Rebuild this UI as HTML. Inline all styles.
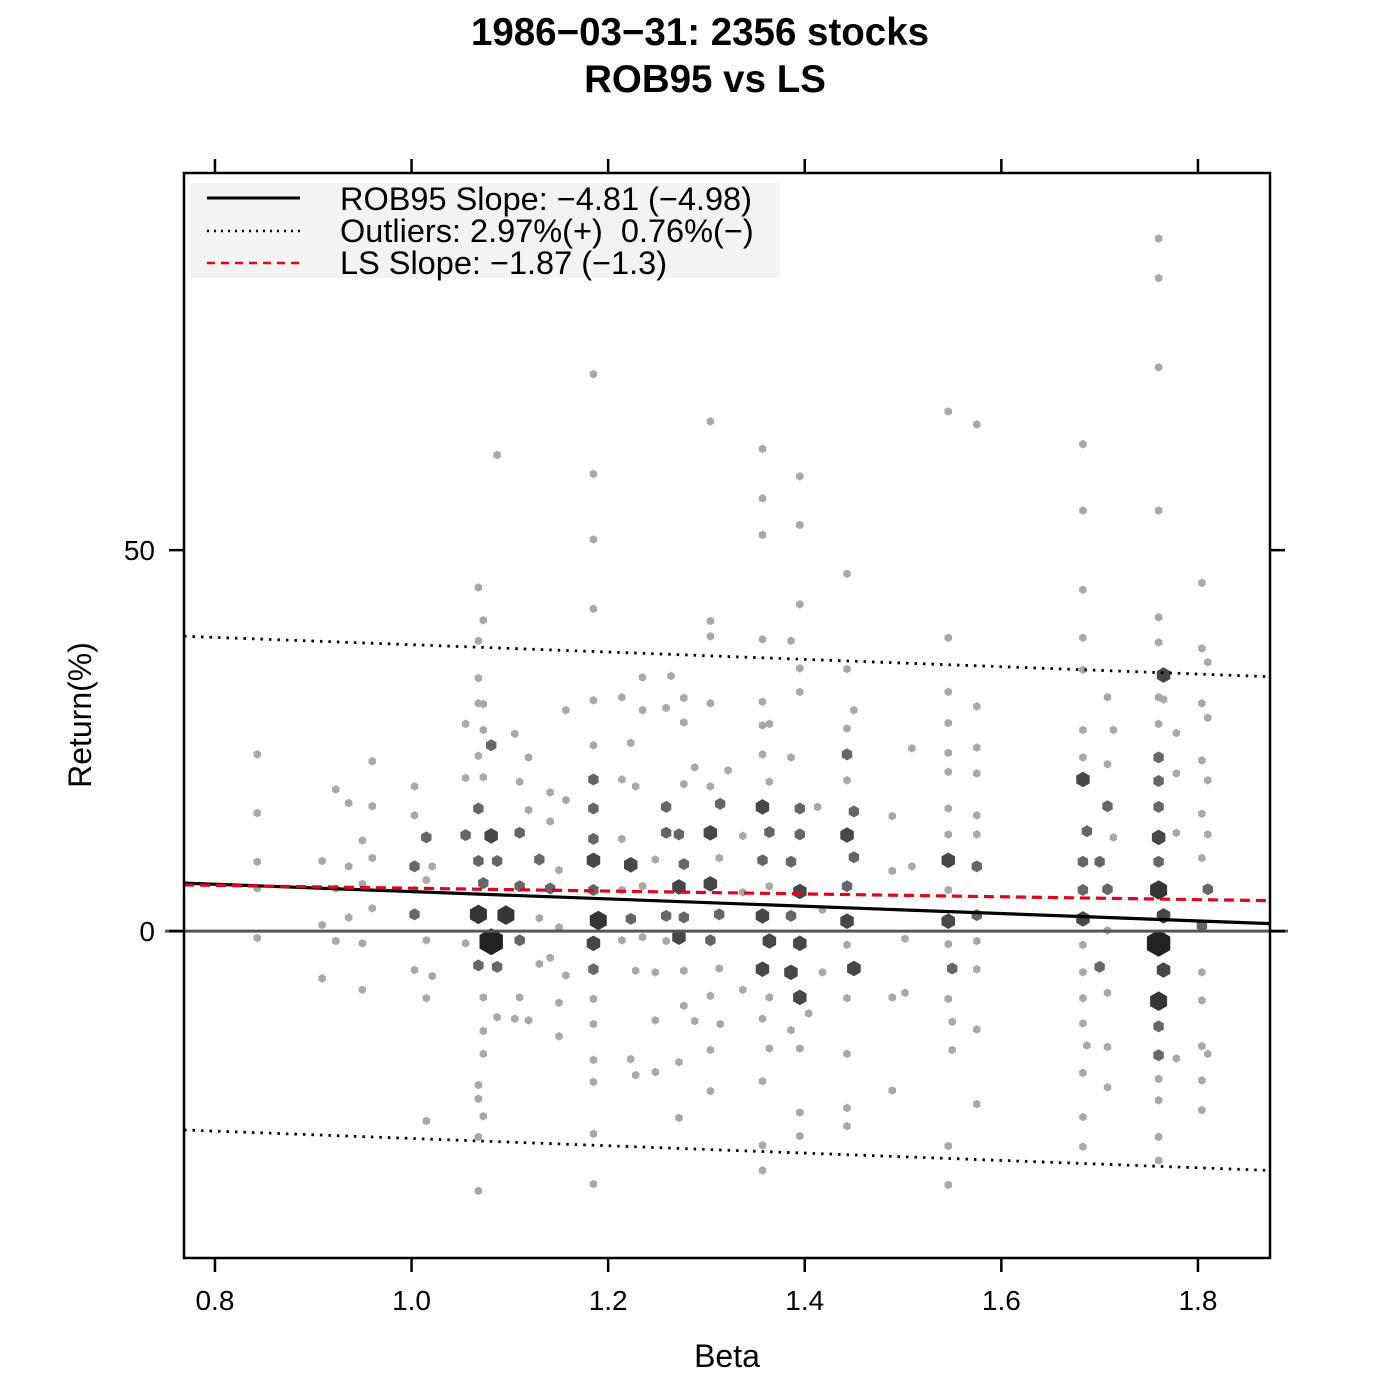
<!DOCTYPE html>
<html><head><meta charset="utf-8"><style>
body{margin:0;background:#fff;}
svg{display:block;font-family:"Liberation Sans",sans-serif;}
</style></head><body>
<svg id="c" width="1400" height="1400" viewBox="0 0 1400 1400">
<text x="700" y="45" text-anchor="middle" font-size="38.5" font-weight="bold">1986−03−31: 2356 stocks</text>
<text x="705" y="92" text-anchor="middle" font-size="38.5" font-weight="bold">ROB95 vs LS</text>
<g id="hexes"></g>
<g id="lines"></g>
<rect x="184" y="173" width="1086" height="1085" fill="none" stroke="#000" stroke-width="2.5"/>
<g id="axes"></g>
<g>
<rect x="190" y="183" width="590" height="95" fill="#f3f3f3"/>
<line x1="207" y1="198" x2="300" y2="198" stroke="#000" stroke-width="3"/>
<line x1="207" y1="231" x2="300" y2="231" stroke="#000" stroke-width="2.5" stroke-dasharray="2,5"/>
<line x1="207" y1="263" x2="300" y2="263" stroke="#e8001c" stroke-width="2.5" stroke-dasharray="8,6"/>
<text x="340" y="210" font-size="32.5">ROB95 Slope: −4.81 (−4.98)</text>
<text x="340" y="242" font-size="32.5" xml:space="preserve">Outliers: 2.97%(+)  0.76%(−)</text>
<text x="340" y="274" font-size="32.5">LS Slope: −1.87 (−1.3)</text>
</g>
<text x="727" y="1367" text-anchor="middle" font-size="32">Beta</text>
<text transform="translate(91,715) rotate(-90)" text-anchor="middle" font-size="32">Return(%)</text>
</svg>
<script>
const colBeta=[0.843,0.909,0.923,0.936,0.95,0.96,1.003,1.015,1.021,1.055,1.068,1.073,1.081,1.087,1.096,1.105,1.11,1.119,1.13,1.141,1.15,1.157,1.185,1.19,1.214,1.223,1.228,1.235,1.248,1.259,1.264,1.272,1.277,1.288,1.304,1.313,1.314,1.322,1.337,1.357,1.364,1.386,1.395,1.404,1.413,1.418,1.443,1.45,1.489,1.502,1.509,1.546,1.55,1.575,1.683,1.687,1.7,1.708,1.714,1.76,1.765,1.778,1.804,1.81];
const colReturns=[
[23.2,15.5,9.1,5.6,-0.9],[9.2,0.8,-6.2],[18.6,5.6,-1.3],[16.8,8.5,1.8],[11.9,6.2,-1.6,-7.7],[22.3,16.4,9.6,3.0],
[19.0,15.2,8.5,5.4,2.2,-5.1],[12.3,6.7,-1.2,-8.8,-24.9],[8.5,-5.9],[27.2,20.1,12.6,-1.6],
[45.1,38.1,33.2,29.9,23.0,16.1,9.2,2.2,-4.5,-20.2,-22.0,-27.0,-34.1],
[40.8,29.8,26.4,20.2,6.3,-8.7,-13.1,-16.1,-24.3],[12.5,-1.4,24.4],[62.5,9.2,-4.7,-11.3],[2.1],[25.9,-11.5],
[19.6,12.9,5.9,-1.2,-8.7],[22.8,15.9,-11.7],[9.4,1.7,-4.3],[18.2,14.4,5.6,-3.5],[8.0,0.5,-9.4,-13.8],[29.0,17.2,-5.8],
[73.1,60.0,51.4,42.3,30.3,24.4,19.9,16.1,12.1,9.3,5.4,-1.6,-5.0,-8.9,-12.2,-16.9,-19.8,-26.6,-33.2],[1.4],
[30.7,19.9,12.1,5.4,-1.2],[8.7,1.6,24.7,-16.8],[19.0,-5.2,-18.9],[33.3,29.0,5.9,-0.8],[9.4,-5.4,-11.7,-18.5],
[29.3,16.3,12.9,2.0,-1.3],[33.5],[5.8,12.7,-0.8,-24.5,-17.2],[30.6,27.4,19.3,8.8,1.8,-5.2,-9.8],[21.5,-11.8],
[66.9,40.7,38.7,29.9,19.0,12.9,6.2,-1.2,-8.5,-15.6,-21.0],[9.6,2.2,-4.9],[16.7,-12.2],[21.1],[12.5,5.1,-7.7],
[63.3,56.8,52.0,38.3,30.1,27.0,23.2,16.3,9.3,2.0,-5.0,-11.5,-19.7,-28.1,-31.4],
[27.2,19.6,13.0,5.9,-1.3,-8.7,-15.4],[38.1,22.8,9.1,2.0,-5.4,-13.0],
[59.7,53.3,42.9,34.5,31.4,16.1,12.7,5.2,-1.6,-8.7,-15.4,-23.8,-26.9],[-10.8],[16.3],[2.8,-5.4],
[46.9,34.4,26.6,23.2,19.8,12.6,5.9,1.3,-1.8,-8.8,-16.1,-23.2,-25.6],[29.0,15.7,9.7,-4.9],
[15.1,7.9,-8.7,-20.9],[-1.0,-8.1],[24.0,8.5],
[68.2,38.5,31.4,27.3,23.4,20.9,16.1,12.7,9.3,5.4,1.3,-1.7,-8.9,-28.2,-33.3],[-4.9,-11.9,-15.6],
[66.5,29.5,24.1,20.7,15.2,12.7,8.5,2.1,-1.3,-5.0,-12.9,-22.7],
[63.9,55.2,44.8,38.5,34.3,26.4,22.8,19.9,9.1,5.4,1.6,-1.8,-5.4,-8.8,-12.1,-18.6,-24.4,-28.3],
[13.1,-15.0],[9.1,-4.7],[30.7,21.9,16.4,5.5,0.1,-8.1,-15.2,-20.5],[26.4,12.3],
[90.9,85.7,74.0,55.2,41.2,37.9,30.7,27.2,22.8,19.7,16.3,12.3,9.1,5.4,-1.6,-9.2,-12.5,-16.3,-19.4,-22.2,-27.0,-30.1],
[33.6,30.4,-5.1,2.0],[26.0,20.7,12.9,-16.7],
[45.7,37.1,29.9,22.4,15.4,9.6,0.7,-5.4,-9.1,-15.1,-19.6,-23.5],[35.3,28.0,19.8,12.7,5.5,-16.1]
];
const colCounts=[
[1,1,1,1,1],[1,1,1],[1,1,1],[1,1,1],[1,1,1,1],[1,1,1,1],
[1,1,2,1,2,1],[2,1,1,1,1],[1,1],[1,1,2,1],
[1,1,1,1,1,2,2,4,2,1,1,1,1],
[1,1,1,1,2,1,1,1,1],[3,5,2],[1,2,2,1],[4],[1,1],
[1,2,2,2,1],[1,1,1],[2,1,1],[1,1,2,1],[1,1,1,1],[1,1,1],
[1,1,1,1,1,1,2,2,2,3,2,3,2,1,1,1,1,1,1],[4],
[1,1,1,1,1],[3,2,1,1],[1,1,1],[1,1,1,1],[1,1,1,1],
[1,2,2,2,1],[1],[3,2,3,1,1],[1,1,1,2,2,1,1],[1,1],
[1,1,1,1,1,3,3,2,1,1,1],[1,2,1],[2,1],[1],[1,1,1],
[1,1,1,1,1,1,1,3,2,3,3,1,1,1,1],
[1,1,2,1,3,1,1],[1,1,2,2,3,1],
[1,1,1,1,1,2,2,3,3,3,1,1,1],[1],[1],[1,1],
[1,1,1,2,1,3,2,3,1,1,1,1,1],[1,2,2,3],
[1,1,1,1],[1,1],[1,1],
[1,1,1,1,1,1,1,1,3,1,3,1,1,1,1],[2,1,1],
[1,1,1,1,1,1,2,2,1,1,1,1],
[1,1,1,1,1,1,1,3,2,2,3,1,1,1,1,1,1,1],
[2,1],[2,2],[1,1,2,2,1,1,1,1],[1,1],
[1,1,1,1,1,1,1,1,2,2,2,3,2,4,5,4,2,2,1,1,1,1],
[3,1,3,3],[1,1,1,1],
[1,1,1,1,1,1,2,1,1,1,1,1],[1,1,1,1,2,1]
];
const xTicks=[0.8,1.0,1.2,1.4,1.6,1.8];
const xTickLabels=["0.8","1.0","1.2","1.4","1.6","1.8"];
const yTicks=[0,50];
const robSlope=-4.81, robIntercept=10.0, outlierBand=32.4;
const lsSlope=-1.87, lsIntercept=7.5;

const X0=184,X1=1270,Y0=173,Y1=1258;
const xmin=0.7685,xmax=1.8733,ymin=-42.9,ymax=99.5;
const sx=b=>X0+(b-xmin)/(xmax-xmin)*(X1-X0);
const sy=r=>Y1-(r-ymin)/(ymax-ymin)*(Y1-Y0);
const NS="http://www.w3.org/2000/svg";
const radii=[0,4.3,6,7.8,9.8,13.5], fills=["","#a8a8a8","#666","#474747","#363636","#222"];
const hg=document.getElementById('hexes');
const axg=document.getElementById('axes');
const lg=document.getElementById('lines');
function mk(t,a,p){const e=document.createElementNS(NS,t);for(const k in a)e.setAttribute(k,a[k]);p.appendChild(e);return e;}
const zl=mk('line',{x1:165,x2:1288,y1:sy(0),y2:sy(0),stroke:'#555','stroke-width':3},lg);


colBeta.forEach((b,i)=>{colReturns[i].forEach((r,j)=>{
  const c=colCounts[i][j],R=radii[c],cx=sx(b),cy=sy(r);let pts=[];
  for(let k=0;k<6;k++){const a=Math.PI/180*(60*k-90);pts.push((cx+R*Math.cos(a)).toFixed(1)+','+(cy+R*Math.sin(a)).toFixed(1));}
  const h=mk('polygon',{points:pts.join(' '),fill:fills[c]},hg);
  
  
});});
function fline(m,b0,off,attrs,name){const l=mk('line',Object.assign({x1:X0,x2:X1,y1:sy(b0+off+m*xmin),y2:sy(b0+off+m*xmax)},attrs),lg);
  
  }
fline(robSlope,robIntercept,outlierBand,{stroke:'#000','stroke-width':2.8,'stroke-dasharray':'2.5,6'},'outlier-upper-line');
fline(robSlope,robIntercept,-outlierBand,{stroke:'#000','stroke-width':2.8,'stroke-dasharray':'2.5,6'},'outlier-lower-line');
fline(robSlope,robIntercept,0,{stroke:'#000','stroke-width':3.2},'rob95-line');
fline(lsSlope,lsIntercept,0,{stroke:'#e8001c','stroke-width':3.2,'stroke-dasharray':'10,6'},'ls-line');
xTicks.forEach((t,i)=>{const x=sx(t);
  const a=mk('line',{x1:x,x2:x,y1:Y1,y2:Y1+14,stroke:'#000','stroke-width':2.5},axg);
  
  
  const b=mk('line',{x1:x,x2:x,y1:Y0,y2:Y0-14,stroke:'#000','stroke-width':2.5},axg);
  
  
  const tx=mk('text',{x:x,y:1310,'text-anchor':'middle','font-size':28},axg);tx.textContent=xTickLabels[i];
  
  
});
yTicks.forEach(t=>{const y=sy(t);
  const a=mk('line',{x1:X0,x2:X0-15,y1:y,y2:y,stroke:'#000','stroke-width':2.5},axg);
  
  
  const b=mk('line',{x1:X1,x2:X1+15,y1:y,y2:y,stroke:'#000','stroke-width':2.5},axg);
  
  
  const tx=mk('text',{x:155,y:y+10,'text-anchor':'end','font-size':28},axg);tx.textContent=String(t);
  
  
});
</script>
</body></html>
